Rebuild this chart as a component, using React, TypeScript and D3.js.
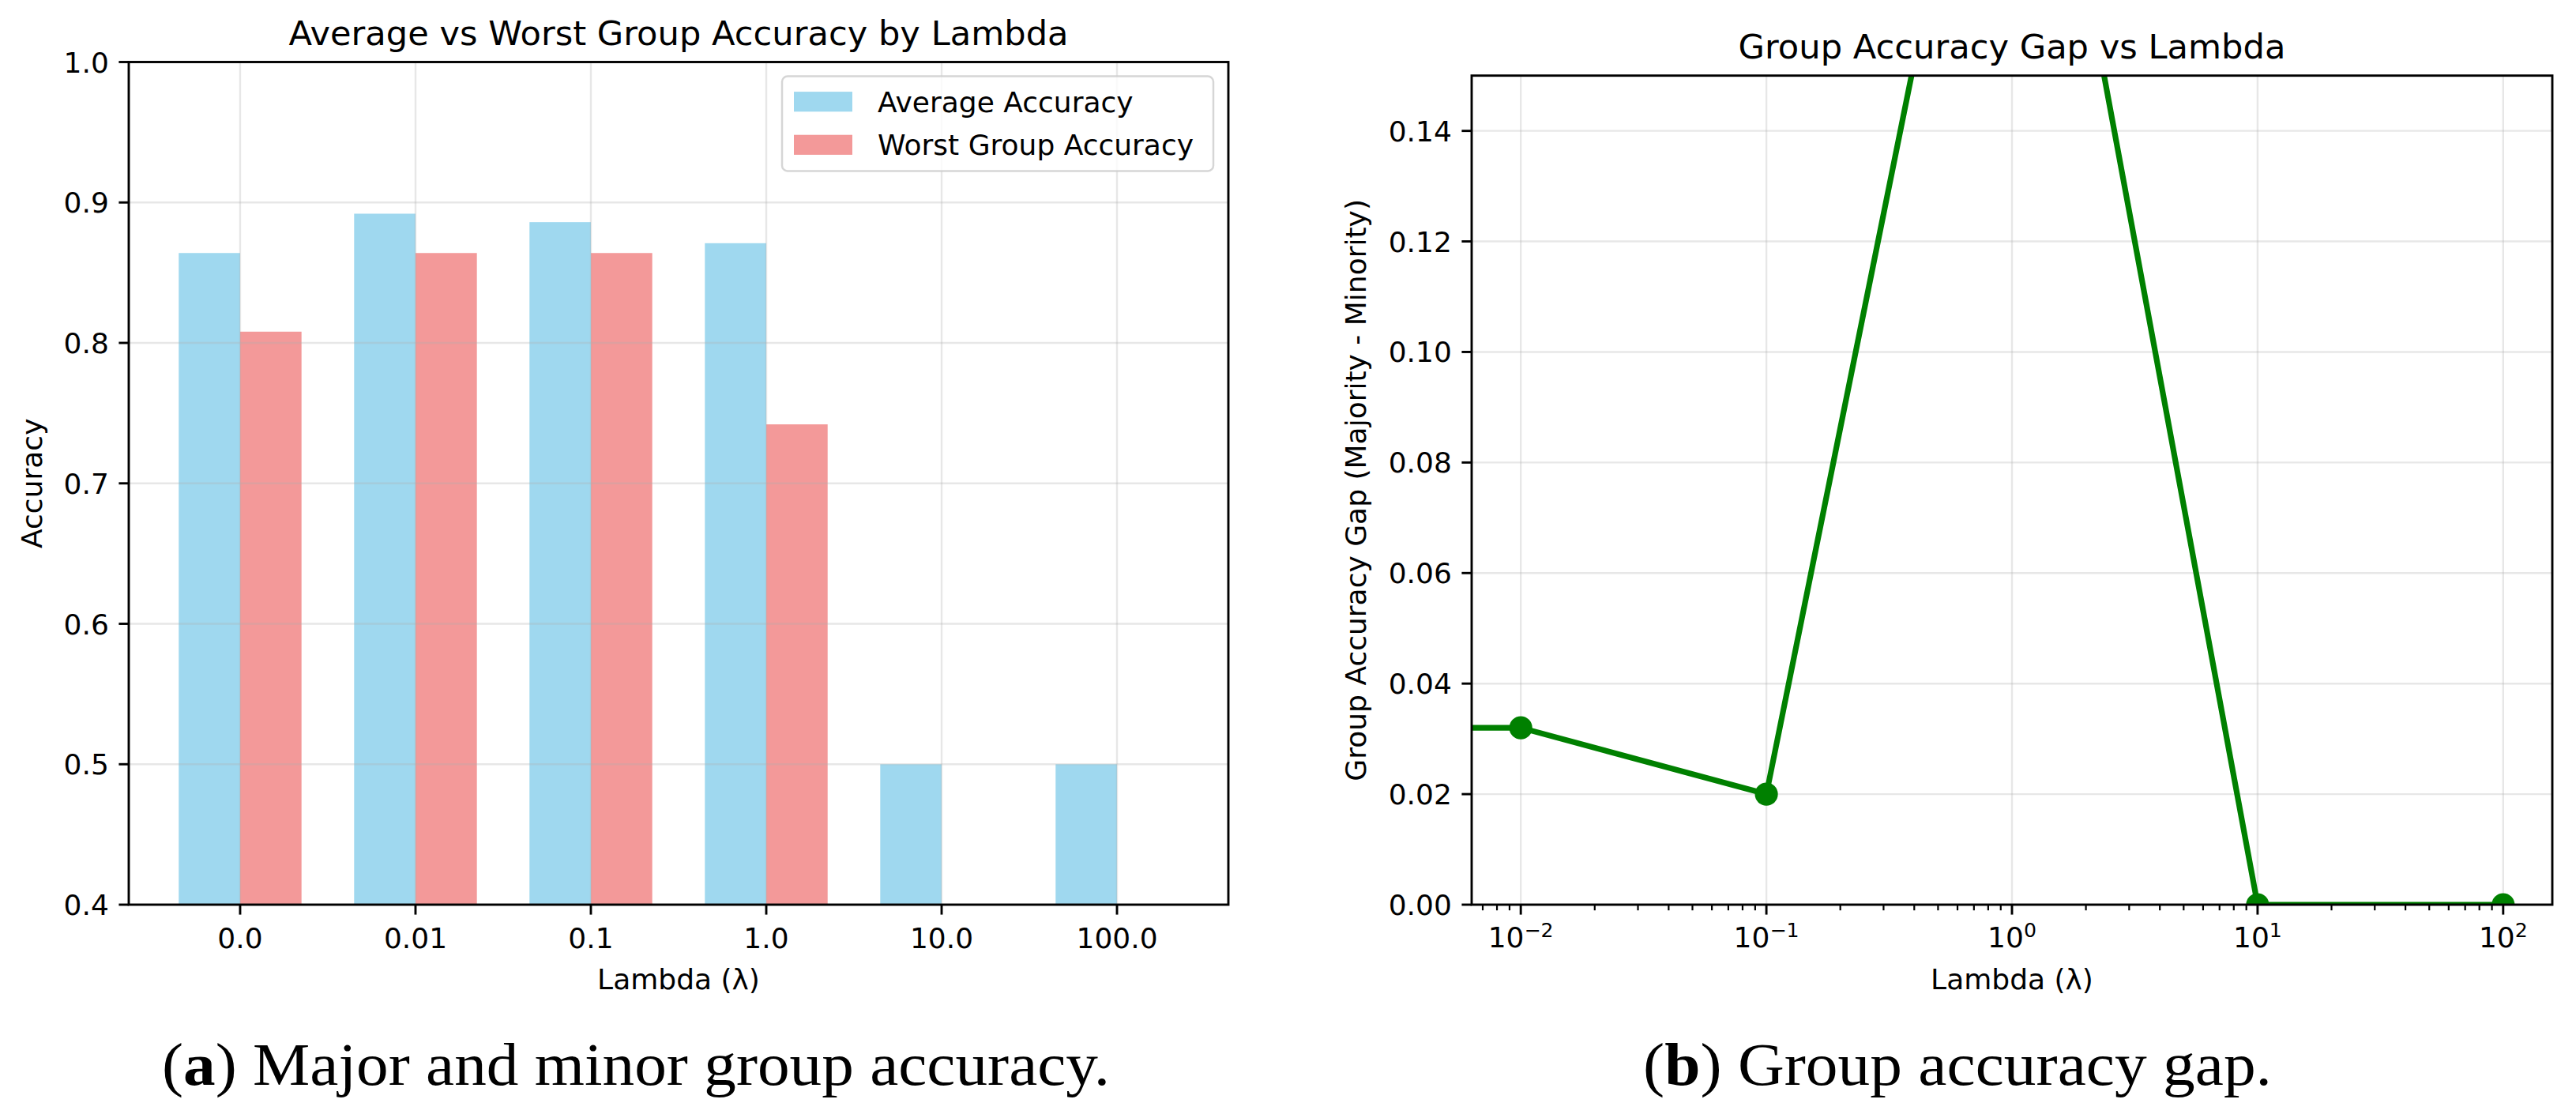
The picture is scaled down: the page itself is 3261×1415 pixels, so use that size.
import React from "react";
import * as d3 from "d3";

// ---------- data ----------
const lambdaLabels = ["0.0", "0.01", "0.1", "1.0", "10.0", "100.0"];
const avgAccuracy = [0.864, 0.892, 0.886, 0.871, 0.5, 0.5];
const worstAccuracy = [0.808, 0.864, 0.864, 0.742, 0.0, 0.0];
const lambdaValues = [0, 0.01, 0.1, 1, 10, 100];
const accuracyGap = [0.032, 0.032, 0.02, 0.24, 0.0, 0.0];
const accTicks = [0.4, 0.5, 0.6, 0.7, 0.8, 0.9, 1.0];
const gapTicks = [0, 0.02, 0.04, 0.06, 0.08, 0.1, 0.12, 0.14];
const logTickExps = [-2, -1, 0, 1, 2];
const seriesNames = ["Average Accuracy", "Worst Group Accuracy"];
const seriesColors = ["skyblue", "lightcoral"];

const W = 3261;
const H = 1415;
const SANS = "DejaVu Sans";
const TICK = 36;
const TITLE = 43.2;
const SPINE = 2.9;
const GRID = "#e6e6e6";
const GRIDW = 2.4;

function fmtExp(e: number) {
  return e < 0 ? "\u2212" + Math.abs(e) : String(e);
}

export default function App() {
  // ---- left chart scales ----
  const L = { x0: 163, x1: 1555, y0: 78.5, y1: 1145 };
  const barW = 0.35;
  const xL = d3.scaleLinear().domain([-0.635, 5.635]).range([L.x0, L.x1]);
  const yL = d3.scaleLinear().domain([0.4, 1.0]).range([L.y1, L.y0]);

  // ---- right chart scales ----
  const R = { x0: 1863, x1: 3231, y0: 95.7, y1: 1145 };
  const xR = d3.scaleLog().domain([Math.pow(10, -2.2), Math.pow(10, 2.2)]).range([R.x0, R.x1]);
  const yR = d3.scaleLinear().domain([0, 0.15]).range([R.y1, R.y0]);

  const pts = lambdaValues.map((l, i) => ({ l: l <= 0 ? 1e-300 : l, v: accuracyGap[i], real: l > 0 }));
  const line = d3
    .line<{ l: number; v: number }>()
    .x((d) => xR(d.l))
    .y((d) => yR(d.v));

  // minor log ticks
  const minorTicks: number[] = [];
  for (let e = -3; e <= 2; e++) {
    for (let m = 2; m <= 9; m++) {
      const v = m * Math.pow(10, e);
      const [a, b] = xR.domain();
      if (v >= a && v <= b) minorTicks.push(v);
    }
  }

  const legendX = 990;
  const legendY = 96.5;
  const legendW = 546;
  const legendH = 120;
  const rowY = [128.7, 183.3];

  return (
    <svg
      width={W}
      height={H}
      viewBox={`0 0 ${W} ${H}`}
      style={{ position: "absolute", left: 0, top: 0, background: "#fff" }}
      fontFamily={SANS}
    >
      <defs>
        <clipPath id="clipL">
          <rect x={L.x0} y={L.y0} width={L.x1 - L.x0} height={L.y1 - L.y0} />
        </clipPath>
        <clipPath id="clipR">
          <rect x={R.x0} y={R.y0} width={R.x1 - R.x0} height={R.y1 - R.y0} />
        </clipPath>
      </defs>
      <rect x={0} y={0} width={W} height={H} fill="#fff" />

      {/* ================= LEFT CHART ================= */}
      <g clipPath="url(#clipL)">
        {lambdaLabels.map((_, i) => (
          <g key={"b" + i}>
            <rect
              x={xL(i - barW)}
              width={xL(i) - xL(i - barW)}
              y={yL(Math.max(avgAccuracy[i], 0))}
              height={Math.max(0, yL(0) - yL(avgAccuracy[i]))}
              fill={seriesColors[0]}
              fillOpacity={0.8}
            />
            <rect
              x={xL(i)}
              width={xL(i + barW) - xL(i)}
              y={yL(Math.max(worstAccuracy[i], 0))}
              height={Math.max(0, yL(0) - yL(worstAccuracy[i]))}
              fill={seriesColors[1]}
              fillOpacity={0.8}
            />
          </g>
        ))}
        {/* grid above bars */}
        {accTicks.map((t) => (
          <line key={"gy" + t} x1={L.x0} x2={L.x1} y1={yL(t)} y2={yL(t)} stroke="#b0b0b0" strokeOpacity={0.3} strokeWidth={GRIDW} />
        ))}
        {lambdaLabels.map((_, i) => (
          <line key={"gx" + i} x1={xL(i)} x2={xL(i)} y1={L.y0} y2={L.y1} stroke="#b0b0b0" strokeOpacity={0.3} strokeWidth={GRIDW} />
        ))}
      </g>

      {/* legend */}
      <rect x={legendX} y={legendY} width={legendW} height={legendH} rx={7} fill="#fff" fillOpacity={0.8} stroke="#cccccc" strokeOpacity={0.8} strokeWidth={2.5} />
      {seriesNames.map((n, i) => (
        <g key={"lg" + i}>
          <rect x={1005} y={rowY[i] - 12.6} width={74} height={25.2} fill={seriesColors[i]} fillOpacity={0.8} />
          <text x={1111} y={rowY[i] + 13} fontSize={TICK} fill="#000">
            {n}
          </text>
        </g>
      ))}

      {/* spines */}
      <rect x={L.x0} y={L.y0} width={L.x1 - L.x0} height={L.y1 - L.y0} fill="none" stroke="#000" strokeWidth={SPINE} />

      {/* y ticks */}
      {accTicks.map((t) => (
        <g key={"yt" + t}>
          <line x1={L.x0 - 12.6} x2={L.x0} y1={yL(t)} y2={yL(t)} stroke="#000" strokeWidth={SPINE} />
          <text x={L.x0 - 25.2} y={yL(t) + 13} fontSize={TICK} textAnchor="end">
            {t.toFixed(1)}
          </text>
        </g>
      ))}
      {/* x ticks */}
      {lambdaLabels.map((lab, i) => (
        <g key={"xt" + i}>
          <line x1={xL(i)} x2={xL(i)} y1={L.y1} y2={L.y1 + 12.6} stroke="#000" strokeWidth={SPINE} />
          <text x={xL(i)} y={1200} fontSize={TICK} textAnchor="middle">
            {lab}
          </text>
        </g>
      ))}
      <text x={(L.x0 + L.x1) / 2} y={57} fontSize={TITLE} textAnchor="middle">
        Average vs Worst Group Accuracy by Lambda
      </text>
      <text x={(L.x0 + L.x1) / 2} y={1252} fontSize={TICK} textAnchor="middle">
        Lambda (λ)
      </text>
      <text transform={`translate(53,${(L.y0 + L.y1) / 2}) rotate(-90)`} fontSize={TICK} textAnchor="middle">
        Accuracy
      </text>

      {/* ================= RIGHT CHART ================= */}
      {gapTicks.map((t) => (
        <line key={"rgy" + t} x1={R.x0} x2={R.x1} y1={yR(t)} y2={yR(t)} stroke="#b0b0b0" strokeOpacity={0.3} strokeWidth={GRIDW} />
      ))}
      {logTickExps.map((e) => (
        <line key={"rgx" + e} x1={xR(Math.pow(10, e))} x2={xR(Math.pow(10, e))} y1={R.y0} y2={R.y1} stroke="#b0b0b0" strokeOpacity={0.3} strokeWidth={GRIDW} />
      ))}
      <g clipPath="url(#clipR)">
        <path d={line(pts) || ""} fill="none" stroke="green" strokeWidth={7.2} strokeLinejoin="round" />
        {pts
          .filter((p) => p.real)
          .map((p, i) => (
            <circle key={"m" + i} cx={xR(p.l)} cy={yR(p.v)} r={14.6} fill="green" />
          ))}
      </g>
      <rect x={R.x0} y={R.y0} width={R.x1 - R.x0} height={R.y1 - R.y0} fill="none" stroke="#000" strokeWidth={SPINE} />

      {gapTicks.map((t) => (
        <g key={"ryt" + t}>
          <line x1={R.x0 - 12.6} x2={R.x0} y1={yR(t)} y2={yR(t)} stroke="#000" strokeWidth={SPINE} />
          <text x={R.x0 - 25.2} y={yR(t) + 13} fontSize={TICK} textAnchor="end">
            {t.toFixed(2)}
          </text>
        </g>
      ))}
      {minorTicks.map((v, i) => (
        <line key={"mn" + i} x1={xR(v)} x2={xR(v)} y1={R.y1} y2={R.y1 + 7.2} stroke="#000" strokeWidth={2.2} />
      ))}
      {logTickExps.map((e) => (
        <g key={"rxt" + e}>
          <line x1={xR(Math.pow(10, e))} x2={xR(Math.pow(10, e))} y1={R.y1} y2={R.y1 + 12.6} stroke="#000" strokeWidth={SPINE} />
          <text x={xR(Math.pow(10, e))} y={1199} fontSize={TICK} textAnchor="middle">
            <tspan>10</tspan>
            <tspan fontSize={25.2} dy={-13}>
              {fmtExp(e)}
            </tspan>
          </text>
        </g>
      ))}
      <text x={(R.x0 + R.x1) / 2} y={74} fontSize={TITLE} textAnchor="middle">
        Group Accuracy Gap vs Lambda
      </text>
      <text x={(R.x0 + R.x1) / 2} y={1252} fontSize={TICK} textAnchor="middle">
        Lambda (λ)
      </text>
      <text transform={`translate(1729,${(R.y0 + R.y1) / 2}) rotate(-90)`} fontSize={TICK} textAnchor="middle">
        Group Accuracy Gap (Majority - Minority)
      </text>

      {/* ================= CAPTIONS ================= */}
      <text x={205} y={1373} fontFamily="Liberation Serif" fontSize={76} textLength={1200} lengthAdjust="spacingAndGlyphs">
        (<tspan fontWeight="bold">a</tspan>) Major and minor group accuracy.
      </text>
      <text x={2080} y={1373} fontFamily="Liberation Serif" fontSize={76} textLength={796} lengthAdjust="spacingAndGlyphs">
        (<tspan fontWeight="bold">b</tspan>) Group accuracy gap.
      </text>
    </svg>
  );
}
